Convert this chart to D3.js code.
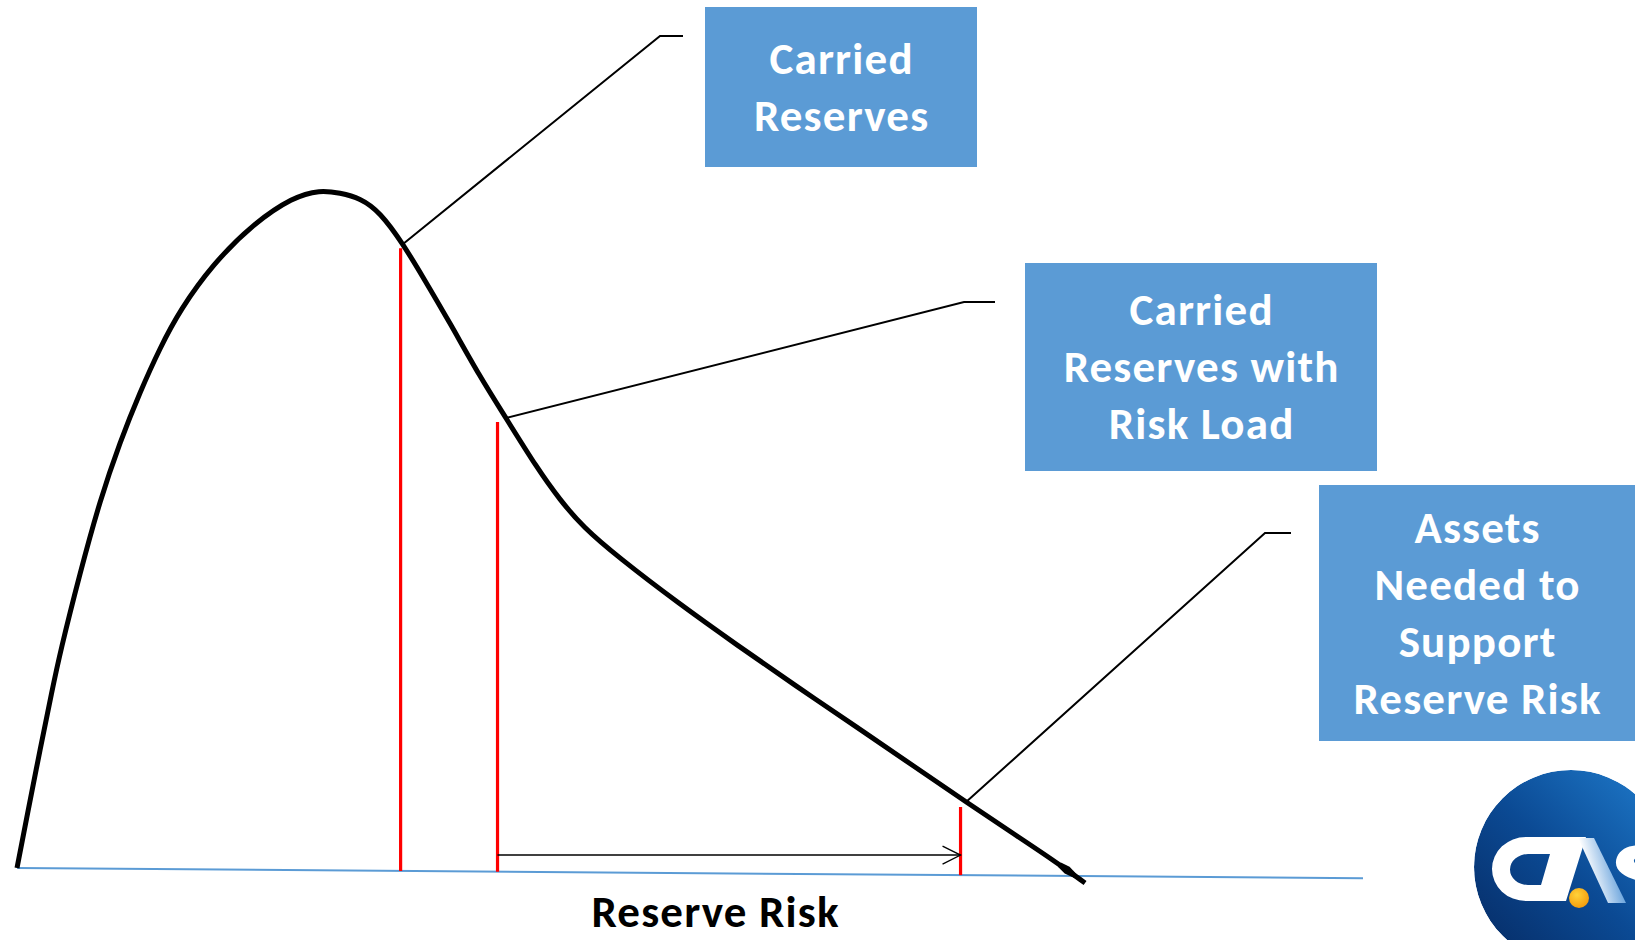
<!DOCTYPE html>
<html>
<head>
<meta charset="utf-8">
<script src="https://cdn.jsdelivr.net/npm/d3@7"></script>
<style>
  html, body { margin: 0; padding: 0; background: #ffffff; overflow: hidden; }
  svg { display: block; }
</style>
</head>
<body>
<svg id="chart" width="1635" height="940"></svg>
<script>
// Reserve distribution curve (reserve amount vs. relative likelihood)
const curveX = [0, 0.82, 1.71, 2.60, 3.19, 4.68, 6.17, 7.65, 9.14, 10.62, 12.11, 14.56,
                17.53, 20.51, 22.51, 24.00, 25.48, 26.97, 28.68, 30.16, 32.17, 34.40, 36.33,
                38.63, 40.34, 42.05, 44.65, 49.11, 53.49, 57.88, 62.26, 66.72, 70.51,
                74.07, 76.97, 79.35];
const curveY = [0, 8.41, 17.40, 26.11, 31.71, 43.51, 54.28, 62.83, 70.21, 76.70, 82.30, 89.09,
                94.99, 98.97, 100, 99.56, 98.82, 96.76, 92.04, 87.17, 80.38, 72.42, 66.37,
                59.00, 54.28, 50.29, 45.87, 39.09, 32.89, 26.84, 20.94, 14.90, 9.73,
                5.01, 1.18, -2.21];

// Reserve levels marked on the distribution
const markerNames = ["Carried Reserves", "Carried Reserves with Risk Load", "Assets Needed to Support Reserve Risk"];
const markerX = [28.5, 35.7, 70.1];
const markerTop = [91.4, 65.8, 9.0];
// Points on the curve where each callout attaches
const anchorX = [28.68, 36.33, 70.51];
const anchorY = [92.04, 66.37, 9.73];
// Callout text, one entry per line
const calloutLines = [
  ["Carried", "Reserves"],
  ["Carried", "Reserves with", "Risk Load"],
  ["Assets", "Needed to", "Support", "Reserve Risk"]
];
const axisTitle = "Reserve Risk";
// Horizontal axis runs slightly downhill
const axisX = [0, 100];
const axisY = [0, -1.5];
// Capital span between loaded reserves and required assets
const spanLevel = 1.9;

const svg = d3.select("#chart");
const x = d3.scaleLinear().domain([0, 100]).range([17, 1363]);
const y = d3.scaleLinear().domain([0, 100]).range([868, 190]);
const baseAt = v => axisY[0] + (axisY[1] - axisY[0]) * (v - axisX[0]) / (axisX[1] - axisX[0]);

const FONT = "Carlito, Lato, 'Open Sans', sans-serif";
const FS = 45, LS = 1.2;
const BOX = "#5b9bd5";

// axis line
svg.append("line")
  .attr("x1", x(axisX[0])).attr("y1", y(axisY[0]))
  .attr("x2", x(axisX[1])).attr("y2", y(axisY[1]))
  .attr("stroke", "#5b9bd5").attr("stroke-width", 2);

// red marker lines
svg.selectAll("line.marker").data(markerX).join("line")
  .attr("class", "marker")
  .attr("x1", d => x(d)).attr("x2", d => x(d))
  .attr("y1", d => y(baseAt(d)))
  .attr("y2", (d, i) => y(markerTop[i]))
  .attr("stroke", "#ff0000").attr("stroke-width", 3.2);

// distribution curve
const pts = curveX.map((v, i) => [v, curveY[i]]);
const line = d3.line().x(d => x(d[0])).y(d => y(d[1])).curve(d3.curveBasis);
svg.append("path").attr("d", line(pts))
  .attr("fill", "none").attr("stroke", "#000").attr("stroke-width", 5)
  .attr("stroke-linejoin", "round");
// heavier, pointed tail end
const t0 = pts[pts.length - 2], t1 = pts[pts.length - 1];
const p0 = [x(t0[0] + (t1[0] - t0[0]) * 0.2), y(t0[1] + (t1[1] - t0[1]) * 0.2)];
const p1 = [x(t1[0]), y(t1[1])];
const dx = p1[0] - p0[0], dy = p1[1] - p0[1], len = Math.hypot(dx, dy);
const nx = -dy / len, ny = dx / len, w = 4.2;
svg.append("path")
  .attr("d", `M${p0[0] + nx * 2.5},${p0[1] + ny * 2.5}L${p0[0] + nx * w + dx * 0.3},${p0[1] + ny * w + dy * 0.3}` +
             `L${p1[0]},${p1[1]}L${p0[0] - nx * w + dx * 0.3},${p0[1] - ny * w + dy * 0.3}L${p0[0] - nx * 2.5},${p0[1] - ny * 2.5}Z`)
  .attr("fill", "#000");

// arrow between the loaded reserves and required assets
const ax1 = x(markerX[1]), ax2 = x(markerX[2]), ay = y(spanLevel);
svg.append("line").attr("x1", ax1).attr("y1", ay).attr("x2", ax2).attr("y2", ay)
  .attr("stroke", "#000").attr("stroke-width", 1.5);
svg.append("path")
  .attr("d", `M${ax2 - 18},${ay - 9}L${ax2},${ay}L${ax2 - 18},${ay + 9}`)
  .attr("fill", "none").attr("stroke", "#000").attr("stroke-width", 1.3);

// callout boxes: [left, top, width, height], elbow and end of leader
const boxes = [
  { r: [705, 7, 272, 160], elbow: [660, 36], end: [683, 36] },
  { r: [1025, 263, 352, 208], elbow: [964, 302], end: [995, 302] },
  { r: [1319, 485, 340, 256], elbow: [1265, 533], end: [1291, 533], cx: 1477 }
];

boxes.forEach((b, i) => {
  svg.append("path")
    .attr("d", `M${x(anchorX[i])},${y(anchorY[i])}L${b.elbow[0]},${b.elbow[1]}L${b.end[0]},${b.end[1]}`)
    .attr("fill", "none").attr("stroke", "#000").attr("stroke-width", 2);
  svg.append("rect")
    .attr("x", b.r[0]).attr("y", b.r[1]).attr("width", b.r[2]).attr("height", b.r[3])
    .attr("fill", BOX);
  const lines = calloutLines[i];
  const cx = (b.cx !== undefined ? b.cx : b.r[0] + b.r[2] / 2) + LS / 2;
  const cy = b.r[1] + b.r[3] / 2;
  const t = svg.append("text")
    .attr("font-family", FONT).attr("font-weight", 700).attr("font-size", FS)
    .attr("letter-spacing", LS)
    .attr("fill", "#fff").attr("text-anchor", "middle");
  lines.forEach((s, j) => {
    t.append("tspan").attr("x", cx)
      .attr("y", cy + (j - (lines.length - 1) / 2) * 57 + 15)
      .text(s);
  });
});

// axis title
svg.append("text")
  .attr("x", 715 + LS / 2).attr("y", 927)
  .attr("font-family", FONT).attr("font-weight", 700).attr("font-size", FS)
  .attr("letter-spacing", LS)
  .attr("fill", "#000").attr("text-anchor", "middle")
  .text(axisTitle);

// CAS emblem in the corner
const defs = svg.append("defs");
const g1 = defs.append("linearGradient").attr("id", "casBlue")
  .attr("gradientUnits", "userSpaceOnUse")
  .attr("x1", 1480).attr("y1", 950).attr("x2", 1650).attr("y2", 780);
g1.append("stop").attr("offset", "0%").attr("stop-color", "#062c66");
g1.append("stop").attr("offset", "50%").attr("stop-color", "#0b4a94");
g1.append("stop").attr("offset", "100%").attr("stop-color", "#1d76c6");
const g2 = defs.append("linearGradient").attr("id", "casLeg")
  .attr("gradientUnits", "userSpaceOnUse")
  .attr("x1", 1584).attr("y1", 860).attr("x2", 1622).attr("y2", 850);
g2.append("stop").attr("offset", "0%").attr("stop-color", "#ffffff");
g2.append("stop").attr("offset", "100%").attr("stop-color", "#3d88d2");
const g3 = defs.append("radialGradient").attr("id", "casDot")
  .attr("cx", "40%").attr("cy", "35%").attr("r", "70%");
g3.append("stop").attr("offset", "0%").attr("stop-color", "#ffd23a");
g3.append("stop").attr("offset", "100%").attr("stop-color", "#f39a0b");
defs.append("clipPath").attr("id", "casClip")
  .append("circle").attr("cx", 1571).attr("cy", 867).attr("r", 97);

const logo = svg.append("g").attr("clip-path", "url(#casClip)");
logo.append("circle").attr("cx", 1571).attr("cy", 867).attr("r", 97).attr("fill", "url(#casBlue)");
// C joined to the left leg of the A
logo.append("path")
  .attr("d", "M1586,837 L1526,837 A34,32 0 0 0 1526,901 L1566,901 Z " +
             "M1550,854 L1528,854 A18,15.5 0 0 0 1528,885 L1541,885 Z")
  .attr("fill", "#fff").attr("fill-rule", "evenodd");
// right leg of the A
logo.append("path")
  .attr("d", "M1578,838 L1594,838 L1626,903 L1608,903 Z")
  .attr("fill", "url(#casLeg)");
// S
logo.append("path")
  .attr("d", "M1650,848 C1640,843 1622,845 1617,857 C1612,870 1625,877 1636,880 L1648,884 L1650,868 " +
             "C1640,866 1633,864 1634,860 C1636,856 1645,858 1650,860 Z")
  .attr("fill", "#fff");
// dot
logo.append("circle").attr("cx", 1579).attr("cy", 898).attr("r", 10).attr("fill", "url(#casDot)");
</script>
</body>
</html>
